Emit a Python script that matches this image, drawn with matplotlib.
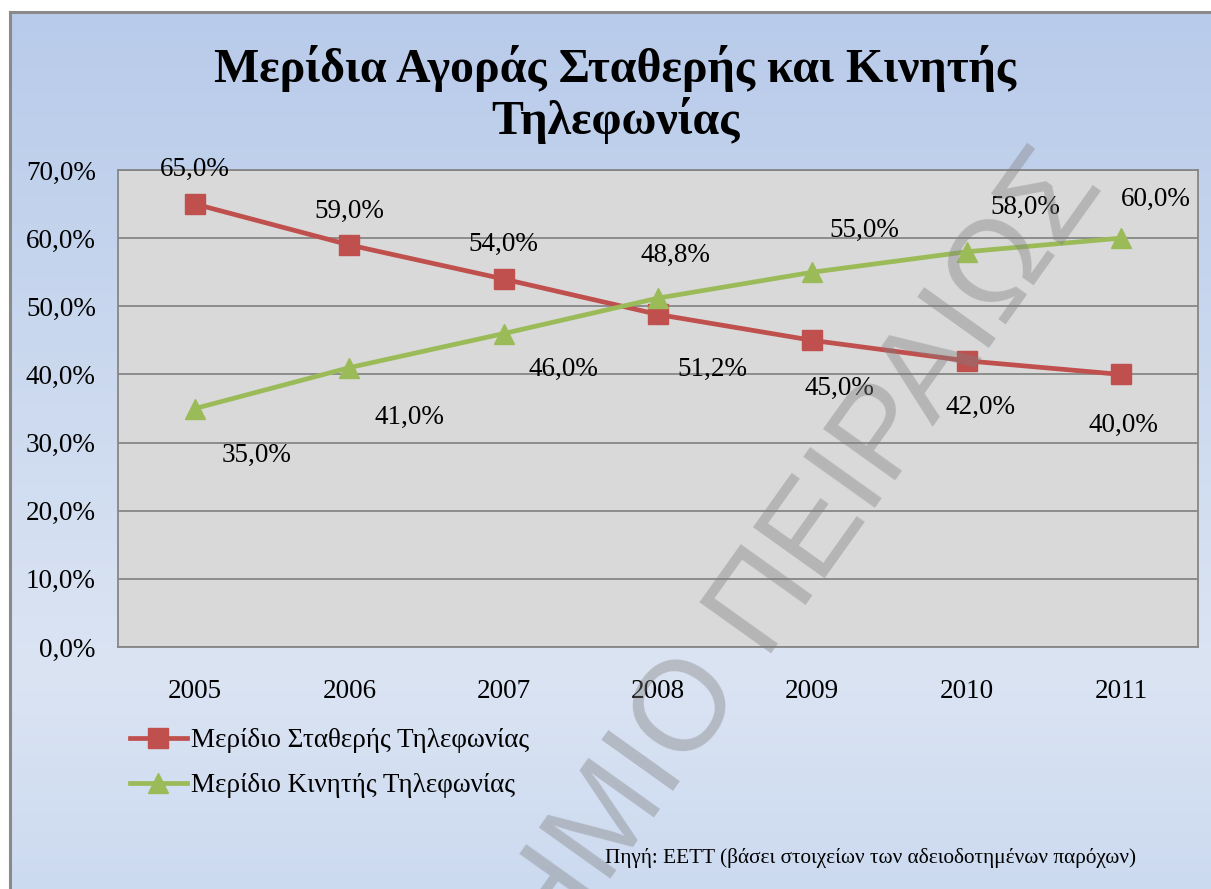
import matplotlib
matplotlib.use('Agg')
import matplotlib.pyplot as plt
import numpy as np
from matplotlib.colors import LinearSegmentedColormap

# ---- data ----
years = ['2005', '2006', '2007', '2008', '2009', '2010', '2011']
fixed_share = [65.0, 59.0, 54.0, 48.8, 45.0, 42.0, 40.0]
mobile_share = [35.0, 41.0, 46.0, 51.2, 55.0, 58.0, 60.0]
y_ticks = [0, 10, 20, 30, 40, 50, 60, 70]
series_names = ['Μερίδιο Σταθερής Τηλεφωνίας', 'Μερίδιο Κινητής Τηλεφωνίας']
title_lines = ['Μερίδια Αγοράς Σταθερής και Κινητής', 'Τηλεφωνίας']
source_note = 'Πηγή: ΕΕΤΤ (βάσει στοιχείων των αδειοδοτημένων παρόχων)'
watermark = 'ΠΑΝΕΠΙΣΤΗΜΙΟ ΠΕΙΡΑΙΩΣ'

# ---- label offsets (style, pixels) ----
fixed_offsets = [(0, 35), (0, 34), (0, 35), (17, 59), (27, -48), (14, -47), (3, -51)]
mobile_offsets = [(61, -47), (60, -50), (60, -36), (54, -71), (52, 42), (59, 44), (35, 39)]


def fmt(v):
    return f'{v:.1f}'.replace('.', ',') + '%'


plt.rcParams['font.family'] = ['Liberation Serif', 'DejaVu Serif']

W, H = 1211, 889
fig = plt.figure(figsize=(W / 100, H / 100), dpi=100)
fig.patch.set_facecolor('white')

# background gradient panel with frame
bg = fig.add_axes([10 / W, 0, 1 - 10 / W, 1 - 12 / H])
cmap = LinearSegmentedColormap.from_list(
    'bg', [(0, '#ccdaf0'), (0.25, '#dbe4f3'), (1, '#b8cbea')])
grad = np.linspace(0, 1, 256).reshape(-1, 1)
bg.imshow(grad, aspect='auto', cmap=cmap, origin='lower', extent=[0, 1, 0, 1])
bg.set_xticks([])
bg.set_yticks([])
for s in ['right', 'bottom']:
    bg.spines[s].set_visible(False)
for s in ['left', 'top']:
    bg.spines[s].set_color('#8a8a8a')
    bg.spines[s].set_linewidth(2.2)

# main plot
ax = fig.add_axes([118 / W, 1 - 647 / H, (1198 - 118) / W, (647 - 170) / H])
ax.set_facecolor('#d9d9d9')
x = np.arange(len(years))
ax.plot(x, fixed_share, color='#c0504d', lw=3.4, marker='s', ms=14,
        label=series_names[0], zorder=3)
ax.plot(x, mobile_share, color='#9bbb59', lw=3.4, marker='^', ms=15,
        label=series_names[1], zorder=3)
ax.set_xlim(-0.5, len(years) - 0.5)
ax.set_ylim(0, 70)
ax.set_yticks(y_ticks)
ax.set_yticklabels([fmt(v) for v in y_ticks])
ax.set_xticks(x)
ax.set_xticklabels(years)
ax.tick_params(length=0, labelsize=19.5)
ax.tick_params(axis='x', pad=23)
ax.tick_params(axis='y', pad=16)
ax.yaxis.grid(True, color='#868686', lw=1.3)
ax.set_axisbelow(True)
for s in ax.spines.values():
    s.set_color('#868686')
    s.set_linewidth(1.3)

for xi, v, off in zip(x, fixed_share, fixed_offsets):
    ax.annotate(fmt(v), (xi, v), xytext=off, textcoords='offset pixels',
                ha='center', va='center', fontsize=19.5, zorder=5)
for xi, v, off in zip(x, mobile_share, mobile_offsets):
    ax.annotate(fmt(v), (xi, v), xytext=off, textcoords='offset pixels',
                ha='center', va='center', fontsize=19.5, zorder=5)

ax.legend(loc='upper left', bbox_to_anchor=(130 / W, 1 - 728 / H),
          bbox_transform=fig.transFigure, frameon=False, borderpad=0,
          borderaxespad=0, handlelength=2.1, handletextpad=0.15,
          labelspacing=0.74, fontsize=19.5)

# title
fig.text(615 / W, 1 - 82 / H, title_lines[0], ha='center', va='baseline',
         fontsize=34.5, fontweight='bold')
fig.text(615 / W, 1 - 134 / H, title_lines[1], ha='center', va='baseline',
         fontsize=34.5, fontweight='bold')

# source note
fig.text(605 / W, 1 - 858 / H, source_note, ha='left', va='center', fontsize=15.3)

# watermark
fig.text(1105 / W, 1 - 186 / H, watermark, rotation=54.5, rotation_mode='anchor',
         ha='right', va='baseline', fontsize=92, family='Liberation Sans',
         color='#808080', alpha=0.4, zorder=10)

fig.savefig('out.png', dpi=100)
